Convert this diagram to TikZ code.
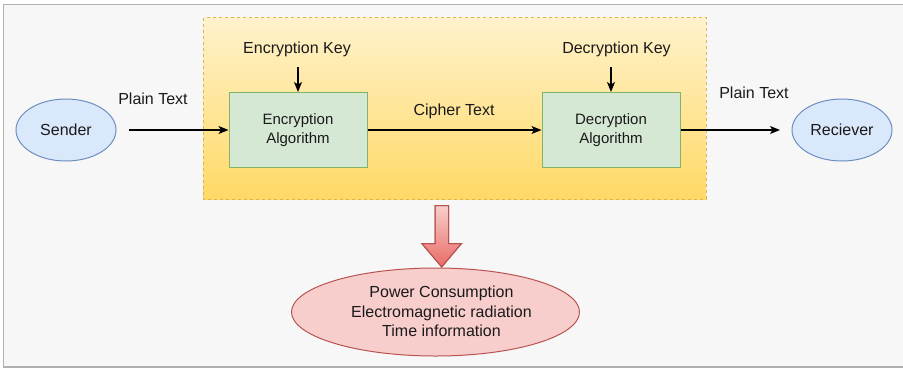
\documentclass[tikz,border=0pt]{standalone}
\usepackage{fontspec}
\setmainfont{Liberation Sans}
\usetikzlibrary{shapes.geometric,arrows.meta}
\definecolor{txt}{HTML}{1A1A1A}
\definecolor{bgfill}{HTML}{F7F7F7}
\definecolor{frame}{HTML}{B0B0B0}
\definecolor{ytop}{HTML}{FFF2CC}
\definecolor{ybot}{HTML}{FFD966}
\definecolor{yline}{HTML}{D6B656}
\definecolor{gfill}{HTML}{D5E8D4}
\definecolor{gline}{HTML}{82B366}
\definecolor{bfill}{HTML}{DAE8FC}
\definecolor{bline}{HTML}{6C8EBF}
\definecolor{rfill}{HTML}{F8CECC}
\definecolor{rdark}{HTML}{EA6B66}
\definecolor{rline}{HTML}{B85450}
\tikzset{
  lbl/.style={text=txt,font=\fontsize{16}{19}\selectfont,inner sep=0pt},
  algo/.style={rectangle,draw=gline,fill=gfill,line width=1pt,minimum width=138pt,
    minimum height=75pt,align=center,text=txt,font=\fontsize{15}{18.7}\selectfont},
  party/.style={ellipse,draw=bline,fill=bfill,line width=1pt,minimum width=100pt,
    minimum height=62pt,inner sep=0pt,text=txt,font=\fontsize{16}{19}\selectfont},
  arr/.style={draw=black,line width=1.3pt,-{Stealth[length=10pt,width=8pt,inset=2.5pt]}},
}
\begin{document}
\begin{tikzpicture}[x=1pt,y=-1pt]
\useasboundingbox (0,0) rectangle (903,368);
% page frame
\begin{scope}
\clip (0,0) rectangle (903,368);
\draw[frame,fill=bgfill,line width=1.5pt] (3.5,4.5) rectangle (920,367);
\end{scope}
% dashed container with vertical gradient
\shade[top color=ytop,bottom color=ybot] (203.5,17.5) rectangle (706,199);
\draw[yline,dashed,dash pattern=on 3pt off 3pt,line width=1pt] (203.5,17.5) rectangle (706,199);

% parties
\node[party] (snd) at (66,130) {Sender};
\node[party] (rcv) at (842,130) {Reciever};

% algorithm boxes
\node[algo] (enc) at (298,130) {Encryption\\Algorithm};
\node[algo] (dec) at (611,130) {Decryption\\Algorithm};

% labels
\node[lbl] (ek) at (297,49) {Encryption Key};
\node[lbl] (dk) at (616.5,49) {Decryption Key};
\node[lbl] (pt1) at (153,99) {Plain Text};
\node[lbl] (ct) at (454,111.5) {Cipher Text};
\node[lbl] (pt2) at (754,93) {Plain Text};

\coordinate (ekin) at (enc.north |- 0,67);
\coordinate (dkin) at (dec.north |- 0,67);
\coordinate (sndout) at (129,130);
\coordinate (rcvin) at (780,130);

% connectors
\draw[arr] (sndout) -- (enc.west);
\draw[arr] (enc.east) -- (dec.west);
\draw[arr] (dec.east) -- (rcvin);
\draw[arr] (ekin) -- (enc.north);
\draw[arr] (dkin) -- (dec.north);

% leakage ellipse
\node[ellipse,draw=rline,fill=rfill,line width=1pt,minimum width=288pt,
  minimum height=88pt,inner sep=0pt] (leak) at (435.5,312) {};
\node[text=txt,font=\fontsize{16}{19.5}\selectfont,align=center,inner sep=0pt]
  (leaktxt) at (441.5,311.5) {Power Consumption\\Electromagnetic radiation\\Time information};

% block arrow pointing at the leakage ellipse
\shade[top color=rfill,bottom color=rdark,draw=rline,line width=1pt]
  (435,205.5) -- (448.5,205.5) -- (448.5,243.5) -- (461.5,243.5) -- (441.7,267)
  -- (421.8,243.5) -- (435,243.5) -- cycle;
\draw[rline,line width=1pt] (435,205.5) -- (448.5,205.5) -- (448.5,243.5) -- (461.5,243.5) -- (441.7,267)
  -- (421.8,243.5) -- (435,243.5) -- cycle;
\end{tikzpicture}
\end{document}
